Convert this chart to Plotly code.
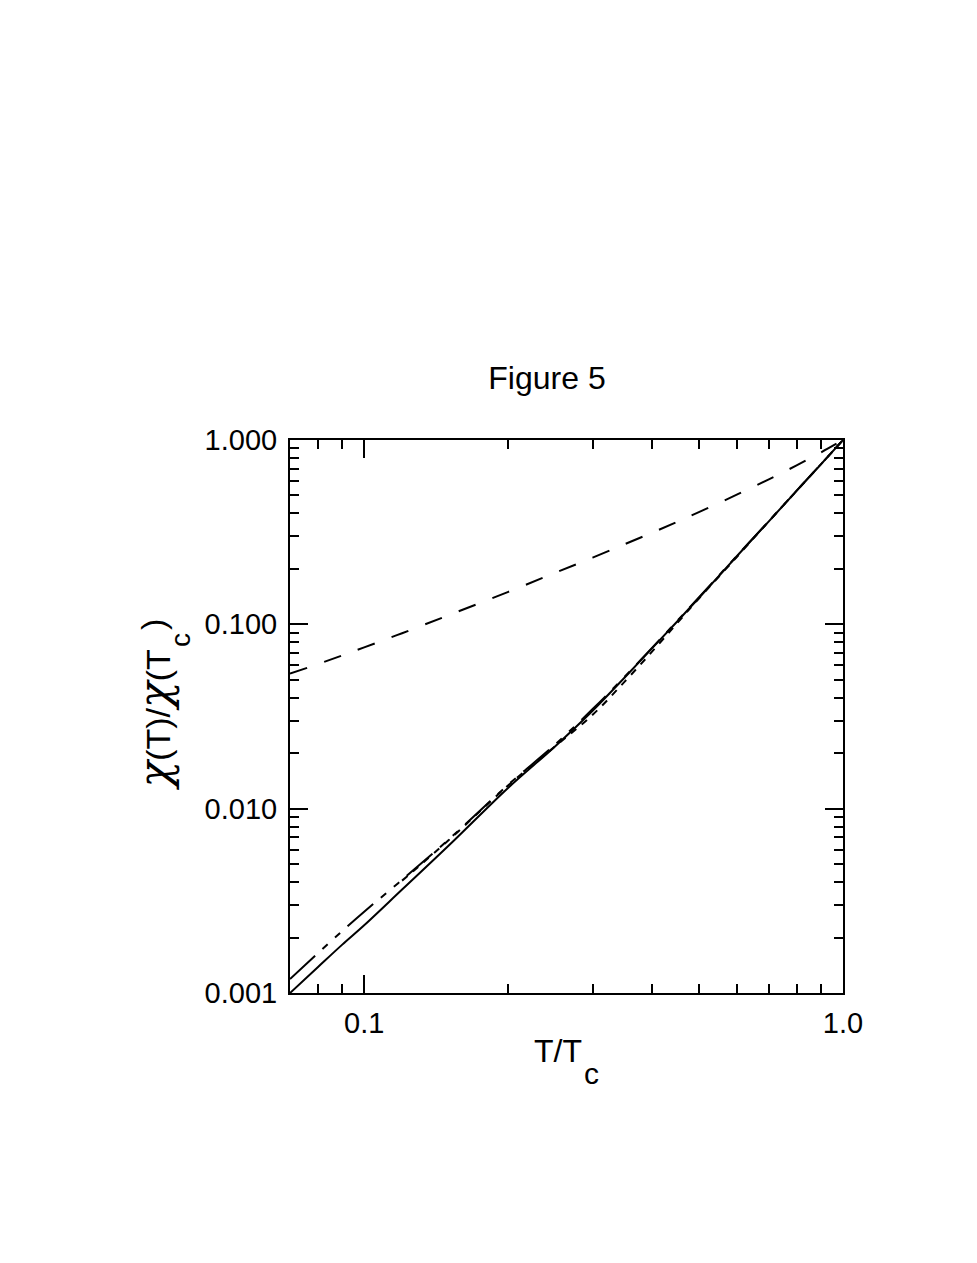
import plotly.graph_objects as go

# reduced temperature T/Tc
t_ratio = [0.07, 0.08, 0.09, 0.1, 0.12, 0.15, 0.2, 0.25, 0.3, 0.35, 0.4,
           0.45, 0.5, 0.6, 0.7, 0.8, 0.9, 1.0]

# chi(T)/chi(Tc) for the four curves
chi_solid = [0.00100, 0.00138, 0.00183, 0.00233, 0.00364, 0.00629, 0.0130,
             0.0217, 0.0340, 0.0515, 0.0745, 0.1033, 0.139, 0.234, 0.362,
             0.530, 0.740, 1.0]
chi_dashdot = [0.00119, 0.00164, 0.00217, 0.00276, 0.00411, 0.00679, 0.0135,
               0.0222, 0.0347, 0.0520, 0.0750, 0.1040, 0.140, 0.235, 0.363,
               0.531, 0.741, 1.0]
t_shortdash = [0.12, 0.15, 0.2, 0.25, 0.3, 0.35, 0.4, 0.45, 0.5, 0.6, 0.7,
               0.8, 0.9, 1.0]
chi_shortdash = [0.00407, 0.00673, 0.0134, 0.0217, 0.0323, 0.0489, 0.0715,
                 0.1012, 0.138, 0.232, 0.362, 0.530, 0.740, 1.0]
chi_longdash = [0.054, 0.0608, 0.0678, 0.075, 0.0895, 0.112, 0.150, 0.190,
                0.230, 0.272, 0.315, 0.359, 0.406, 0.505, 0.612, 0.728,
                0.857, 1.0]

font = "Liberation Sans, Arial, sans-serif"
chi = ("<span style='font-family:DejaVu Serif;font-style:italic;"
       "font-size:44px'>χ</span>")

fig = go.Figure()
fig.add_trace(go.Scatter(x=t_ratio, y=chi_solid, mode="lines",
                         line=dict(color="black", width=2, shape="spline")))
fig.add_trace(go.Scatter(x=t_ratio, y=chi_dashdot, mode="lines",
                         line=dict(color="black", width=2, shape="spline",
                                   dash="34px,10px,7px,10px,7px,10px")))
fig.add_trace(go.Scatter(x=t_shortdash, y=chi_shortdash, mode="lines",
                         line=dict(color="black", width=2, shape="spline",
                                   dash="7px,7px")))
fig.add_trace(go.Scatter(x=t_ratio, y=chi_longdash, mode="lines",
                         line=dict(color="black", width=2, shape="spline",
                                   dash="18px,18px")))

axis_common = dict(
    showgrid=False, zeroline=False, showline=True, linecolor="black",
    linewidth=2, mirror="ticks", ticks="inside", ticklen=18, tickwidth=2,
    tickcolor="black", tickfont=dict(family=font, size=29, color="black"),
    minor=dict(ticks="inside", ticklen=9, tickwidth=2, tickcolor="black",
               dtick="D1", showgrid=False),
)

fig.update_xaxes(
    type="log", range=[-1.1549, 0], tickvals=[0.1, 1.0],
    ticktext=["0.1", "1.0"], ticklabelstandoff=3,
    **axis_common,
)
fig.update_yaxes(
    type="log", range=[-3, 0], tickvals=[0.001, 0.01, 0.1, 1.0],
    ticktext=["0.001", "0.010", "0.100", "1.000"], ticklabelstandoff=5,
    **axis_common,
)


def px_x(x):
    # page pixel -> paper fraction (plot area 290..843)
    return (x - 290) / 553


def px_y(y):
    # page pixel -> paper fraction (plot area 440..993)
    return (993 - y) / 553


title_font = dict(family=font, size=32, color="black")
sub_font = dict(family=font, size=30, color="black")

# x axis title, subscript set well below like the original
fig.add_annotation(text="T/T", x=px_x(558), y=px_y(1051),
                   font=title_font)
fig.add_annotation(text="c", x=px_x(591), y=px_y(1073), font=sub_font)

# y axis title, rotated
fig.add_annotation(text=chi + "(T)/" + chi + "(T", x=px_x(154),
                   y=px_y(648), yanchor="top", textangle=-90,
                   font=dict(family=font, size=34, color="black"))
fig.add_annotation(text="c", x=px_x(180), y=px_y(640), textangle=-90,
                   font=dict(family=font, size=28, color="black"))
fig.add_annotation(text=")", x=px_x(153), y=px_y(625), textangle=-90,
                   font=dict(family=font, size=34, color="black"))

fig.update_annotations(xref="paper", yref="paper", showarrow=False,
                       xanchor="center")
for ann in fig.layout.annotations:
    if ann.yanchor is None:
        ann.yanchor = "middle"

fig.update_layout(
    width=977, height=1263,
    margin=dict(l=282, r=142, t=432, b=278),
    paper_bgcolor="white", plot_bgcolor="white",
    showlegend=False,
    title=dict(text="Figure 5", x=539 / 977, xanchor="center",
               y=1 - 370 / 1263, yanchor="middle",
               font=dict(family=font, size=32, color="black")),
    font=dict(family=font, color="black"),
)

fig.write_html("out.html")
